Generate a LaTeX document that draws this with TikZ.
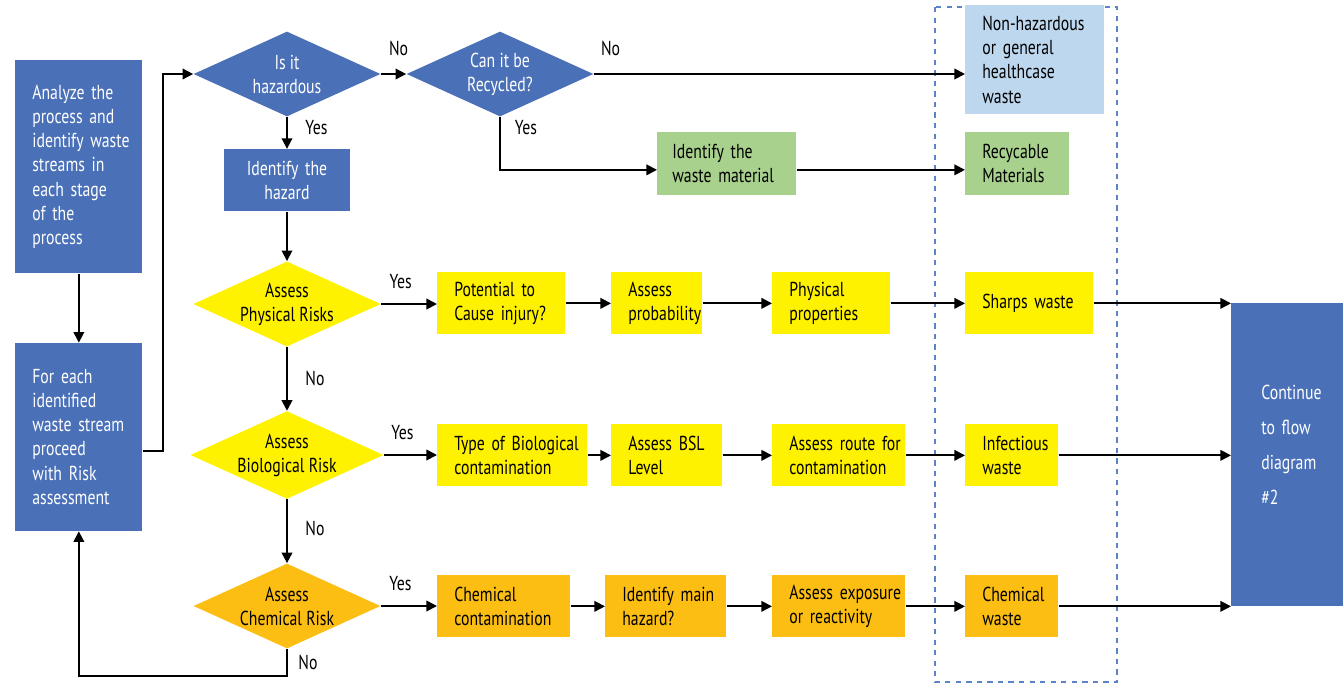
\documentclass[tikz,border=0pt]{standalone}
\usepackage{fontspec}
\setmainfont{PT Sans}[FakeStretch=0.78]
\usetikzlibrary{positioning, shapes.geometric, arrows.meta}

\definecolor{dblue}{RGB}{74,112,184}
\definecolor{lblue}{RGB}{189,215,238}
\definecolor{lgreen}{RGB}{169,209,142}
\definecolor{yel}{RGB}{255,242,0}
\definecolor{orng}{RGB}{253,190,20}
\definecolor{dashcol}{RGB}{91,132,200}

\begin{document}
\begin{tikzpicture}[x=0.02cm, y=-0.02cm, >={Triangle[length=6pt,width=6pt]},
  every node/.style={font=\fontsize{11.5}{13.7}\selectfont},
  box/.style={rectangle, anchor=north west, align=left, inner sep=0pt,
    execute at begin node={\leftskip=0.34cm\hyphenpenalty=10000\relax}},
  row/.style={box, minimum height=1.24cm},
  dec/.style={diamond, aspect=2.2, minimum width=3.74cm, minimum height=1.7cm, inner sep=0pt, align=center},
  lbl/.style={inner sep=0pt},
  flow/.style={->, line width=1pt}]
\useasboundingbox (0,0) rectangle (1343,684);
% column of waste types
\draw[dashed, dashcol, line width=0.8pt] (935,7) rectangle (1117,682);

\node (analyze) [box, fill=dblue, text=white, text width=2.54cm, minimum height=4.26cm] at (15,60)
{Analyze the\\process and\\identify waste\\streams in\\each stage\\of the\\process};
\node (foreach) [box, below=1.38cm of analyze, fill=dblue, text=white, text width=2.54cm, minimum height=3.76cm]
{For each\\identified\\waste stream\\proceed\\with Risk\\assessment};

\node (haz) [dec, fill=dblue, text=white] at (287,74) {Is it\\hazardous};
\node (recyc) [dec, fill=dblue, text=white] at (500,74) {Can it be\\Recycled?};
\node (hazid) [rectangle, below=0.64cm of haz, fill=dblue, text=white, align=center, inner sep=0pt,
  text width=2.52cm, minimum height=1.24cm] {Identify the\\hazard};
\node (phys) [dec, fill=yel] at (287,304) {Assess\\Physical Risks};
\node (bio) [dec, fill=yel] at (287,455) {Assess\\Biological Risk};
\node (chem) [dec, fill=orng] at (287,606) {Assess\\Chemical Risk};

\node (nonhaz) [box, fill=lblue, text width=2.78cm, minimum height=2.18cm] at (965,5)
{Non-hazardous\\or general\\healthcase\\waste};
\node (wastemat) [box, fill=lgreen, text width=2.78cm, minimum height=1.26cm,
  execute at begin node={\leftskip=0.3cm\relax}] at (657,132) {Identify the\\waste material};
\node (recmat) [box, fill=lgreen, text width=2.08cm, minimum height=1.26cm] at (965,132) {Recycable\\Materials};

% physical risks
\node (pot) [row, fill=yel, text width=2.56cm] at (437,272) {Potential to\\Cause injury?};
\node (prob) [row, fill=yel, text width=1.82cm] at (611,272) {Assess\\probability};
\node (props) [row, fill=yel, text width=2.36cm] at (772,272) {Physical\\properties};
\node (sharps) [row, fill=yel, text width=2.56cm] at (965,272) {Sharps waste};

% biological risk
\node (typebio) [row, fill=yel, text width=3.00cm] at (437,424) {Type of Biological\\contamination};
\node (bsl) [row, fill=yel, text width=2.22cm] at (611,424) {Assess BSL\\Level};
\node (route) [row, fill=yel, text width=2.66cm] at (772,424) {Assess route for\\contamination};
\node (infect) [row, fill=yel, text width=1.86cm] at (965,424) {Infectious\\waste};

% chemical risk
\node (chemcont) [row, fill=orng, text width=2.66cm] at (437,575) {Chemical\\contamination};
\node (mainhaz) [row, fill=orng, text width=2.42cm] at (605,575) {Identify main\\hazard?};
\node (expo) [row, fill=orng, text width=2.66cm] at (772,575) {Assess exposure\\or reactivity};
\node (chemw) [row, fill=orng, text width=1.86cm] at (965,575) {Chemical\\waste};

\node (cont) [box, fill=dblue, text=white, text width=2.24cm, minimum height=6.06cm,
  font=\fontsize{11.5}{19.9}\selectfont, execute at begin node={\leftskip=0.6cm\relax}] at (1231,303)
{Continue\\to flow\\diagram\\\#2\\[-0.3cm]\mbox{}};

\draw[flow] (analyze) -- (foreach);
\draw[flow] ([yshift=-0.28cm]foreach.east) -- ++(20,0) |- (haz.west);
\draw[flow] (haz.east) -- node[lbl, pos=0.7, above=10pt] (no1) {No} (recyc.west);
\draw[flow] (recyc.east) -- node[lbl, pos=0.045, above=10pt] (no2) {No} (recyc.east -| nonhaz.west);
\draw[flow] (recyc.south) |- node[lbl, pos=0.1, right=8pt] (yes1) {Yes} ([yshift=-0.12cm]wastemat.west);
\draw[flow] ([yshift=-0.12cm]wastemat.east) -- ([yshift=-0.12cm]recmat.west);
\draw[flow] (haz.south) -- node[lbl, pos=0.35, right=10pt] (yes2) {Yes} (hazid.north);
\draw[flow] (hazid) -- (phys);

\draw[flow] (phys.east) -- node[lbl, pos=0.35, above=8pt] (yes3) {Yes} (phys.east -| pot.west);
\draw[flow] (pot) -- (prob);
\draw[flow] (prob) -- (props);
\draw[flow] (props) -- (sharps);
\draw[flow] (sharps.east) -- (sharps.east -| cont.west);

\draw[flow] (phys.south) -- node[lbl, right=10pt] (no3) {No} (bio.north);
\draw[flow] (bio.east) -- node[lbl, pos=0.35, above=8pt] (yes4) {Yes} (bio.east -| typebio.west);
\draw[flow] (typebio) -- (bsl);
\draw[flow] (bsl) -- (route);
\draw[flow] (route) -- (infect);
\draw[flow] (infect.east) -- (infect.east -| cont.west);

\draw[flow] (bio.south) -- node[lbl, pos=0.45, right=10pt] (no4) {No} (chem.north);
\draw[flow] (chem.east) -- node[lbl, pos=0.35, above=8pt] (yes5) {Yes} (chem.east -| chemcont.west);
\draw[flow] (chemcont) -- (mainhaz);
\draw[flow] (mainhaz) -- (expo);
\draw[flow] (expo) -- (chemw);
\draw[flow] (chemw.east) -- (chemw.east -| cont.west);

\draw[flow] (chem.south) -- node[lbl, right=6pt] (no5) {No} ++(0,27) -| (foreach.south);
\end{tikzpicture}
\end{document}
